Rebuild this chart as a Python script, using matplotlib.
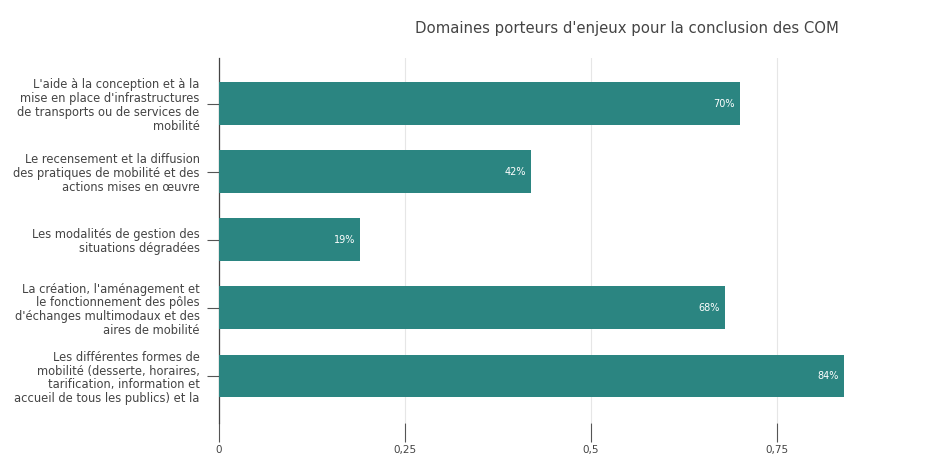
import matplotlib
matplotlib.use("Agg")
import matplotlib.pyplot as plt
import matplotlib.transforms as mtransforms

categories = [
    "L'aide à la conception et à la\nmise en place d'infrastructures\nde transports ou de services de\nmobilité",
    "Le recensement et la diffusion\ndes pratiques de mobilité et des\nactions mises en œuvre",
    "Les modalités de gestion des\nsituations dégradées",
    "La création, l'aménagement et\nle fonctionnement des pôles\nd'échanges multimodaux et des\naires de mobilité",
    "Les différentes formes de\nmobilité (desserte, horaires,\ntarification, information et\naccueil de tous les publics) et la",
]
values = [0.70, 0.42, 0.19, 0.68, 0.84]
value_labels = ["70%", "42%", "19%", "68%", "84%"]
x_ticks = [0, 0.25, 0.5, 0.75]
x_tick_labels = ["0", "0,25", "0,5", "0,75"]
title = "Domaines porteurs d'enjeux pour la conclusion des COM"

bar_color = "#2b8581"
text_color = "#444444"

plt.rcParams["font.family"] = ["DejaVu Sans"]

W, H = 953, 461
fig = plt.figure(figsize=(W / 100, H / 100), dpi=100)
ax = fig.add_axes([219 / W, 1 - 423 / H, (948 - 219) / W, (423 - 58) / H])

ypos = list(range(len(categories)))
ax.barh(ypos, values, height=0.63, color=bar_color, zorder=3)
ax.set_ylim(len(categories) - 1 + 0.69, -0.67)

# value labels sit just inside the end of each bar
offset = mtransforms.offset_copy(ax.transData, fig=fig, x=-5, y=0, units="dots")
for y, v, lab in zip(ypos, values, value_labels):
    ax.text(v, y, lab, ha="right", va="center", color="white",
            fontsize=7, transform=offset, zorder=4)

ax.set_yticks(ypos)
ax.set_yticklabels(categories, fontsize=8.3, color=text_color, linespacing=1.07,
                   ha="right")
ax.tick_params(axis="y", length=9, width=0.8, color="#555555", pad=5)

ax.set_xticks(x_ticks + [1.0])
ax.set_xticklabels(x_tick_labels + [""], fontsize=7.5, color=text_color)
ax.tick_params(axis="x", length=14, width=0.8, color="#555555", pad=2)
ax.grid(axis="x", color="#e6e6e6", linewidth=0.8, zorder=0)
ax.set_xlim(0, 0.98)

for s in ["top", "right", "bottom"]:
    ax.spines[s].set_visible(False)
ax.spines["left"].set_color("#444444")
ax.spines["left"].set_linewidth(0.9)

fig.text(627 / W, 1 - 28 / H, title, ha="center", va="center",
         fontsize=10.7, color=text_color)

fig.savefig("out.png", dpi=100, facecolor="white")
